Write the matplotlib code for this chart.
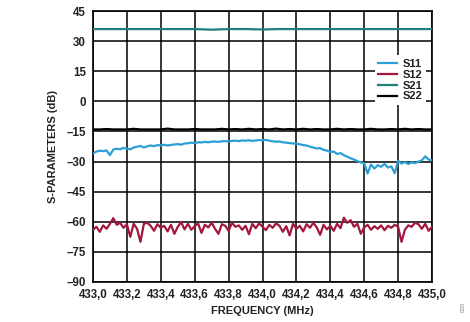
import numpy as np
import matplotlib
matplotlib.use("Agg")
import matplotlib.pyplot as plt

plt.rcParams['font.family'] = ['Liberation Sans', 'DejaVu Sans']
plt.rcParams['font.weight'] = 'bold'

# S-parameters vs frequency (MHz)
s11 = [-26.0, -25.0, -24.6, -24.8, -24.5, -26.8, -24.0, -23.6, -23.9, -23.2,
       -23.6, -23.9, -23.0, -22.6, -22.2, -23.0, -22.4, -22.0, -22.3, -21.8,
       -22.0, -21.6, -22.0, -21.7, -21.5, -21.3, -21.6, -21.0, -20.9, -20.6,
       -20.8, -20.4, -20.5, -20.2, -20.4, -20.1, -20.0, -20.2, -19.9, -19.8,
       -20.0, -19.7, -19.6, -19.8, -19.5, -19.6, -19.4, -19.7, -19.5, -19.3,
       -19.4, -19.2, -19.6, -19.9, -20.1, -20.0, -20.4, -20.6, -20.8, -21.0,
       -21.1, -21.4, -21.8, -22.0, -22.6, -23.0, -23.5, -23.3, -24.2, -24.5,
       -25.3, -25.0, -26.2, -25.8, -26.8, -27.6, -28.4, -29.0, -29.8, -30.4,
       -30.8, -36.0, -31.5, -33.5, -31.8, -32.6, -31.2, -33.0, -32.4, -35.8,
       -29.6, -31.0, -30.2, -31.2, -30.4, -30.8, -30.0, -29.4, -27.4, -29.0,
       -29.4]

s12 = [-64.0, -62.5, -65.0, -61.8, -63.5, -61.0, -58.2, -61.5, -60.5, -63.0,
       -61.2, -67.5, -61.0, -63.5, -70.0, -61.0, -60.5, -62.0, -64.5, -61.2,
       -63.0, -62.0, -64.8, -61.5, -66.0, -62.5, -60.2, -63.8, -61.0, -64.0,
       -62.2, -60.8, -65.5, -61.5, -62.8, -60.5, -63.5, -66.0, -61.2, -62.0,
       -64.5, -60.5, -62.5, -61.8, -64.0, -62.0, -66.2, -61.0, -63.2, -60.8,
       -62.5, -64.2, -61.5, -63.0, -60.8, -62.0, -65.0, -62.2, -66.8, -61.0,
       -63.5, -62.0, -64.8, -61.2, -63.0, -60.5, -62.8, -66.5, -61.5, -63.8,
       -62.0, -64.5, -61.0, -63.2, -58.0, -60.5, -59.2, -62.5, -61.0, -66.0,
       -62.8, -61.5, -64.0, -62.2, -63.5, -61.8, -64.2, -62.0, -63.0, -61.5,
       -62.5, -70.0, -64.0, -61.8, -62.5, -60.5, -61.2, -63.5, -61.0, -64.5,
       -62.5]

s21 = [36.0, 36.0, 36.0, 36.0, 36.0, 36.0, 36.0, 35.7, 36.0, 36.0, 35.8,
       36.0, 36.0, 36.0, 36.0, 36.0, 36.0, 36.0, 36.0, 36.0, 36.0]

s22 = [-14.0, -14.0, -13.8, -14.0, -14.0, -14.0, -13.7, -14.0, -14.0, -14.0,
       -14.0, -13.6, -14.0, -14.0, -14.0, -13.8, -14.0, -14.0, -14.0, -13.7,
       -14.0, -13.8, -14.0, -13.7, -14.0, -13.8, -14.0, -13.6, -14.0, -13.8,
       -14.0, -13.7, -14.0, -13.8, -14.0, -14.0, -13.7, -14.0, -13.8, -14.0,
       -14.0, -13.7, -14.0, -14.0, -13.8, -14.0, -13.7, -14.0, -13.8, -14.0,
       -14.0]

x_ticks = [433.0, 433.2, 433.4, 433.6, 433.8, 434.0, 434.2, 434.4, 434.6, 434.8, 435.0]
x_labels = ['433,0', '433,2', '433,4', '433,6', '433,8', '434,0',
            '434,2', '434,4', '434,6', '434,8', '435,0']
y_ticks = [45, 30, 15, 0, -15, -30, -45, -60, -75, -90]

colors = {'S11': '#2c9fd6', 'S12': '#a3173f', 'S21': '#1e8079', 'S22': '#000000'}

fig = plt.figure(figsize=(4.7, 3.22), dpi=100)
ax = fig.add_axes([93 / 470, 1 - 282 / 322, 339 / 470, 271 / 322])

series = [('S11', s11), ('S12', s12), ('S21', s21), ('S22', s22)]
for name, vals in series:
    f = np.linspace(433.0, 435.0, len(vals))
    ax.plot(f, vals, color=colors[name], lw=1.6, label=name, zorder=3)

ax.set_xlim(433.0, 435.0)
ax.set_ylim(-90, 45)
ax.set_xticks(x_ticks)
ax.set_xticklabels(x_labels)
ax.set_yticks(y_ticks)
ax.set_yticklabels([str(v).replace('-', '\u2013') for v in y_ticks])
ax.tick_params(length=0, labelsize=8.3, pad=5, colors='#222222')
ax.grid(True, color='black', lw=1.1, zorder=1)
for sp in ax.spines.values():
    sp.set_linewidth(1.2)

ax.set_xlabel('FREQUENCY (MHz)', fontsize=8, fontweight='bold', color='#222222', labelpad=4)
ax.set_ylabel('S-PARAMETERS (dB)', fontsize=8, fontweight='bold', color='#222222', labelpad=6)

leg = ax.legend(loc='upper left', bbox_to_anchor=(0.832, 0.836), frameon=True,
                fancybox=False, edgecolor='none', facecolor='white', framealpha=1,
                fontsize=8, handlelength=1.7, handletextpad=0.5, labelspacing=0.08,
                borderpad=0.3, borderaxespad=0)
leg.set_zorder(5)
for t in leg.get_texts():
    t.set_color('#222222')

fig.text(463 / 470, 1 - 307 / 322, '035', rotation=90, fontsize=4.5, color='#888888',
         ha='center', va='center', fontweight='normal')

fig.savefig('out.png', dpi=100)
